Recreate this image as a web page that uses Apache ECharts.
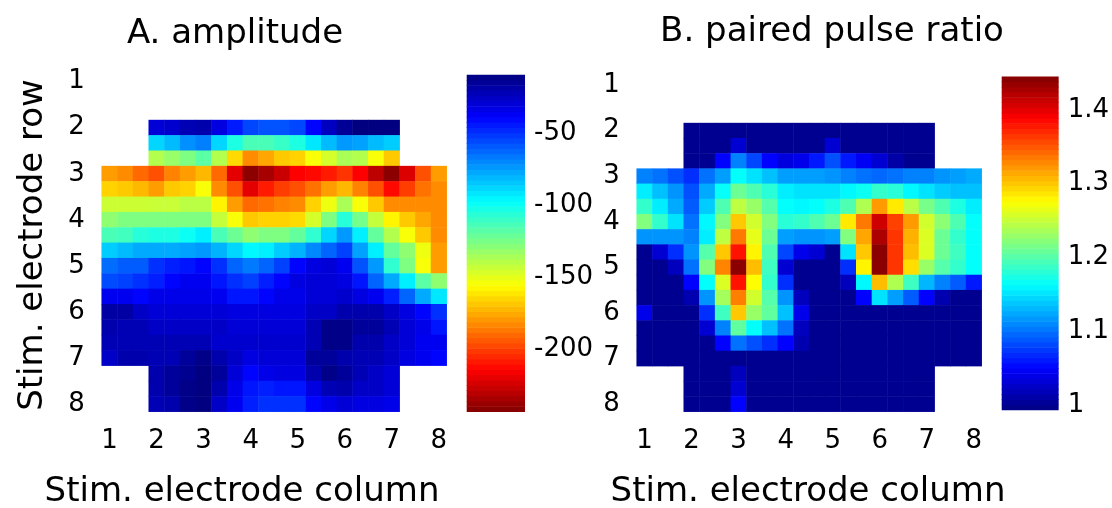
<!DOCTYPE html>
<html><head><meta charset="utf-8">
<script src="https://cdn.jsdelivr.net/npm/echarts@6/dist/echarts.min.js"></script>
<style>html,body{margin:0;padding:0;background:#fff}#c{width:1112px;height:508px}</style>
</head><body><div id="c"></div>
<script>
// ---------- data ----------
const tickLabels = ['1','2','3','4','5','6','7','8'];
const stepsPerElectrode = 3;               // interpolated cells between electrodes
const ampLimits = [-243, -10];             // µV colour range
const ampTicks = [-200, -150, -100, -50];
const pprLimits = [0.993, 1.445];          // paired pulse ratio colour range
const pprTicks = [1, 1.1, 1.2, 1.3, 1.4];
const n = null;

// amplitude (µV); rows = stim. electrode row 1..8 in thirds, columns likewise
const ampRows = [
  [n,n,n,n,n,n,n,n,n,n,n,n,n,n,n,n,n,n,n,n,n,n],
  [n,n,n,n,n,n,n,n,n,n,n,n,n,n,n,n,n,n,n,n,n,n],
  [n,n,n,n,n,n,n,n,n,n,n,n,n,n,n,n,n,n,n,n,n,n],
  [n,n,n,-30,-28,-22,-20,-32,-45,-55,-58,-58,-55,-40,-25,-15,-10,-10,-10,n,n,n],
  [n,n,n,-88,-82,-72,-68,-88,-104,-114,-114,-110,-104,-92,-82,-74,-76,-82,-86,n,n,n],
  [n,n,n,-138,-132,-126,-118,-138,-164,-182,-176,-168,-166,-154,-146,-136,-138,-154,-168,n,n,n],
  [-178,-182,-190,-196,-184,-178,-172,-190,-220,-240,-234,-226,-214,-212,-208,-202,-214,-229,-240,-222,-196,-178],
  [-166,-168,-172,-178,-168,-166,-154,-182,-196,-220,-208,-200,-196,-188,-178,-172,-184,-196,-212,-200,-188,-182],
  [-144,-144,-144,-143,-143,-140,-140,-158,-178,-190,-188,-184,-182,-166,-152,-136,-154,-168,-182,-182,-182,-182],
  [-130,-126,-126,-126,-126,-126,-126,-142,-154,-168,-166,-166,-164,-146,-126,-106,-124,-142,-158,-168,-176,-182],
  [-114,-112,-106,-104,-104,-100,-94,-114,-122,-130,-126,-126,-120,-108,-88,-74,-94,-120,-138,-154,-168,-182],
  [-86,-82,-78,-78,-78,-76,-74,-80,-88,-96,-94,-86,-80,-70,-62,-54,-76,-94,-120,-130,-152,-178],
  [-64,-60,-60,-50,-46,-44,-40,-50,-62,-67,-62,-54,-40,-32,-30,-36,-58,-74,-108,-126,-154,-178],
  [-56,-54,-50,-46,-40,-36,-36,-44,-50,-54,-46,-40,-32,-30,-30,-32,-44,-62,-78,-94,-118,-130],
  [-36,-36,-40,-34,-34,-34,-34,-36,-44,-44,-40,-34,-34,-30,-30,-28,-32,-36,-46,-62,-78,-92],
  [-18,-18,-26,-30,-30,-30,-30,-30,-32,-32,-32,-32,-32,-26,-26,-20,-20,-20,-26,-32,-40,-50],
  [-20,-22,-22,-26,-26,-26,-26,-26,-30,-30,-30,-30,-30,-22,-12,-12,-16,-16,-22,-30,-34,-44],
  [-22,-22,-22,-22,-22,-22,-22,-28,-28,-28,-28,-28,-28,-22,-12,-12,-20,-20,-26,-30,-36,-36],
  [-26,-20,-20,-22,-22,-16,-12,-20,-26,-32,-30,-30,-30,-16,-16,-20,-22,-22,-26,-32,-36,-40],
  [n,n,n,-20,-16,-14,-10,-16,-30,-40,-34,-32,-32,-20,-12,-16,-22,-26,-30,n,n,n],
  [n,n,n,-20,-16,-12,-10,-20,-34,-44,-46,-44,-44,-32,-22,-20,-26,-26,-30,n,n,n],
  [n,n,n,-22,-20,-12,-10,-26,-36,-46,-50,-50,-50,-40,-34,-30,-32,-32,-34,n,n,n]
];

// paired pulse ratio
const pprRows = [
  [n,n,n,n,n,n,n,n,n,n,n,n,n,n,n,n,n,n,n,n,n,n],
  [n,n,n,n,n,n,n,n,n,n,n,n,n,n,n,n,n,n,n,n,n,n],
  [n,n,n,n,n,n,n,n,n,n,n,n,n,n,n,n,n,n,n,n,n,n],
  [n,n,n,1.0,1.0,1.0,1.0,1.0,1.0,1.0,1.0,1.0,1.0,1.0,1.0,1.0,1.0,1.0,1.0,n,n,n],
  [n,n,n,1.0,1.0,1.0,1.03,1.0,1.0,1.0,1.0,1.0,1.03,1.0,1.0,1.0,1.0,1.0,1.0,n,n,n],
  [n,n,n,1.0,1.0,1.05,1.107,1.08,1.05,1.035,1.04,1.06,1.085,1.06,1.045,1.03,1.01,1.0,1.0,n,n,n],
  [1.107,1.10,1.085,1.07,1.10,1.12,1.164,1.15,1.135,1.12,1.12,1.12,1.115,1.107,1.10,1.095,1.10,1.107,1.107,1.115,1.12,1.125],
  [1.155,1.135,1.115,1.085,1.125,1.165,1.21,1.197,1.18,1.155,1.15,1.15,1.15,1.16,1.168,1.185,1.18,1.16,1.15,1.14,1.135,1.135],
  [1.185,1.155,1.125,1.09,1.14,1.197,1.247,1.23,1.2,1.164,1.16,1.164,1.175,1.197,1.24,1.32,1.285,1.245,1.215,1.197,1.175,1.155],
  [1.22,1.185,1.15,1.10,1.16,1.22,1.30,1.255,1.22,1.18,1.185,1.197,1.21,1.285,1.335,1.41,1.36,1.32,1.255,1.225,1.197,1.164],
  [1.115,1.115,1.115,1.107,1.155,1.247,1.335,1.265,1.21,1.12,1.115,1.115,1.12,1.22,1.315,1.425,1.365,1.31,1.26,1.21,1.185,1.164],
  [1.0,1.03,1.07,1.115,1.2,1.30,1.38,1.28,1.197,1.08,1.04,1.03,1.0,1.15,1.30,1.44,1.365,1.305,1.26,1.21,1.19,1.164],
  [1.0,1.0,1.02,1.10,1.22,1.33,1.44,1.305,1.19,1.03,1.0,1.0,1.0,1.07,1.28,1.44,1.365,1.29,1.23,1.2,1.185,1.164],
  [1.0,1.0,1.0,1.05,1.164,1.26,1.38,1.276,1.185,1.07,1.0,1.0,1.0,1.02,1.16,1.305,1.24,1.19,1.13,1.107,1.09,1.06],
  [1.0,1.0,1.0,1.015,1.115,1.235,1.332,1.255,1.2,1.115,1.02,1.0,1.0,1.0,1.05,1.15,1.12,1.09,1.05,1.015,1.0,1.0],
  [1.04,1.0,1.0,1.0,1.07,1.19,1.30,1.23,1.205,1.135,1.04,1.0,1.0,1.0,1.0,1.0,1.0,1.0,1.0,1.0,1.0,1.0],
  [1.0,1.0,1.0,1.0,1.03,1.107,1.205,1.164,1.135,1.10,1.02,1.0,1.0,1.0,1.0,1.0,1.0,1.0,1.0,1.0,1.0,1.0],
  [1.0,1.0,1.0,1.0,1.0,1.05,1.10,1.085,1.07,1.05,1.015,1.0,1.0,1.0,1.0,1.0,1.0,1.0,1.0,1.0,1.0,1.0],
  [1.0,1.0,1.0,1.0,1.0,1.0,1.0,1.0,1.0,1.0,1.0,1.0,1.0,1.0,1.0,1.0,1.0,1.0,1.0,1.0,1.0,1.0],
  [n,n,n,1.0,1.0,1.0,1.02,1.0,1.0,1.0,1.0,1.0,1.0,1.0,1.0,1.0,1.0,1.0,1.0,n,n,n],
  [n,n,n,1.0,1.0,1.0,1.03,1.0,1.0,1.0,1.0,1.0,1.0,1.0,1.0,1.0,1.0,1.0,1.0,n,n,n],
  [n,n,n,1.0,1.0,1.0,1.05,1.0,1.0,1.0,1.0,1.0,1.0,1.0,1.0,1.0,1.0,1.0,1.0,n,n,n]
];

// ---------- build ----------
const jet = ['#000080','#0000ff','#0080ff','#00ffff','#80ff80','#ffff00','#ff8000','#ff0000','#800000'];
const FONT = 'DejaVu Sans';
const TXT = '#000000';
const nCells = (tickLabels.length - 1) * stepsPerElectrode + 1;
const cats = Array.from({length: nCells}, (_, i) => String(i));
const labelFmt = (v, i) => (i % stepsPerElectrode === 0 ? tickLabels[i / stepsPerElectrode] : '');

function toCells(rows) {
  const out = [];
  rows.forEach((row, r) => row.forEach((v, c) => { if (v !== null) out.push([c, r, v]); }));
  return out;
}
function bands(lim, count) {
  const out = [], step = (lim[1] - lim[0]) / count;
  for (let k = 0; k < count; k++) {
    const lo = lim[0] + k * step, hi = lo + step;
    out.push([lo, hi, (lo + hi) / 2]);
  }
  return out;
}
const barRender = (params, api) => {
  const p0 = api.coord([0, api.value(0)]);
  const p1 = api.coord([1, api.value(1)]);
  const c = api.visual('color');
  return { type: 'rect',
    shape: { x: p0[0], y: p1[1] - 0.3, width: p1[0] - p0[0], height: p0[1] - p1[1] + 0.6 },
    style: { fill: c, stroke: null } };
};

const catX = gi => ({ type: 'category', gridIndex: gi, data: cats,
  axisLine: {show: false}, axisTick: {show: false}, splitLine: {show: false},
  axisLabel: { interval: 0, formatter: labelFmt, margin: 17, fontSize: 26, fontFamily: FONT, color: TXT } });
const catY = gi => ({ type: 'category', gridIndex: gi, data: cats, inverse: true,
  axisLine: {show: false}, axisTick: {show: false}, splitLine: {show: false},
  axisLabel: { interval: 0, formatter: labelFmt, margin: 17, fontSize: 26, fontFamily: FONT, color: TXT } });
const barX = gi => ({ type: 'value', gridIndex: gi, min: 0, max: 1, show: false });
const barY = (gi, lim, ticks, fmt) => ({ type: 'value', gridIndex: gi, min: lim[0], max: lim[1], position: 'right',
  axisLine: {show: false}, axisTick: {show: false}, splitLine: {show: false},
  axisLabel: { customValues: ticks, formatter: fmt, margin: 9, fontSize: 26, fontFamily: FONT, color: TXT } });

const textEl = (txt, x, y, size, extra) => Object.assign({ type: 'text', x: x, y: y, silent: true,
  style: { text: txt, fontSize: size, fontFamily: FONT, fill: TXT, align: 'center', verticalAlign: 'middle' } }, extra || {});

const chart = echarts.init(document.getElementById('c'), null, {renderer: 'canvas'});
chart.setOption({
  animation: false,
  backgroundColor: '#ffffff',
  grid: [
    { left: 101.7, top: 74, width: 345, height: 337.7 },
    { left: 466.7, top: 75, width: 58.3, height: 336.7 },
    { left: 636.7, top: 77.5, width: 345, height: 334.2 },
    { left: 1001.7, top: 76.7, width: 58.3, height: 333.3 }
  ],
  xAxis: [catX(0), barX(1), catX(2), barX(3)],
  yAxis: [catY(0), barY(1, ampLimits, ampTicks, v => String(v)),
          catY(2), barY(3, pprLimits, pprTicks, v => String(Math.round(v * 10) / 10))],
  visualMap: [
    { type: 'continuous', show: false, seriesIndex: [0, 1], dimension: 2,
      min: ampLimits[0], max: ampLimits[1], inRange: { color: jet.slice().reverse() } },
    { type: 'continuous', show: false, seriesIndex: [2, 3], dimension: 2,
      min: pprLimits[0], max: pprLimits[1], inRange: { color: jet.slice() } }
  ],
  series: [
    { type: 'heatmap', xAxisIndex: 0, yAxisIndex: 0, data: toCells(ampRows), itemStyle: {borderWidth: 0} },
    { type: 'custom', xAxisIndex: 1, yAxisIndex: 1, data: bands(ampLimits, 64), renderItem: barRender, encode: {y: [0, 1]} },
    { type: 'heatmap', xAxisIndex: 2, yAxisIndex: 2, data: toCells(pprRows), itemStyle: {borderWidth: 0} },
    { type: 'custom', xAxisIndex: 3, yAxisIndex: 3, data: bands(pprLimits, 64), renderItem: barRender, encode: {y: [0, 1]} }
  ],
  graphic: [
    textEl('A. amplitude', 235, 34, 34),
    textEl('B. paired pulse ratio', 832, 32, 34),
    textEl('Stim. electrode column', 242, 492, 34),
    textEl('Stim. electrode column', 808, 492, 34),
    textEl('Stim. electrode row', 33, 245, 34, { rotation: Math.PI / 2 }),
    textEl('μV', 495, 104, 23, { style: { text: 'μV', fontSize: 23, fontFamily: FONT, fill: '#ffffff', align: 'center', verticalAlign: 'middle' } })
  ]
});
</script>
</body></html>
